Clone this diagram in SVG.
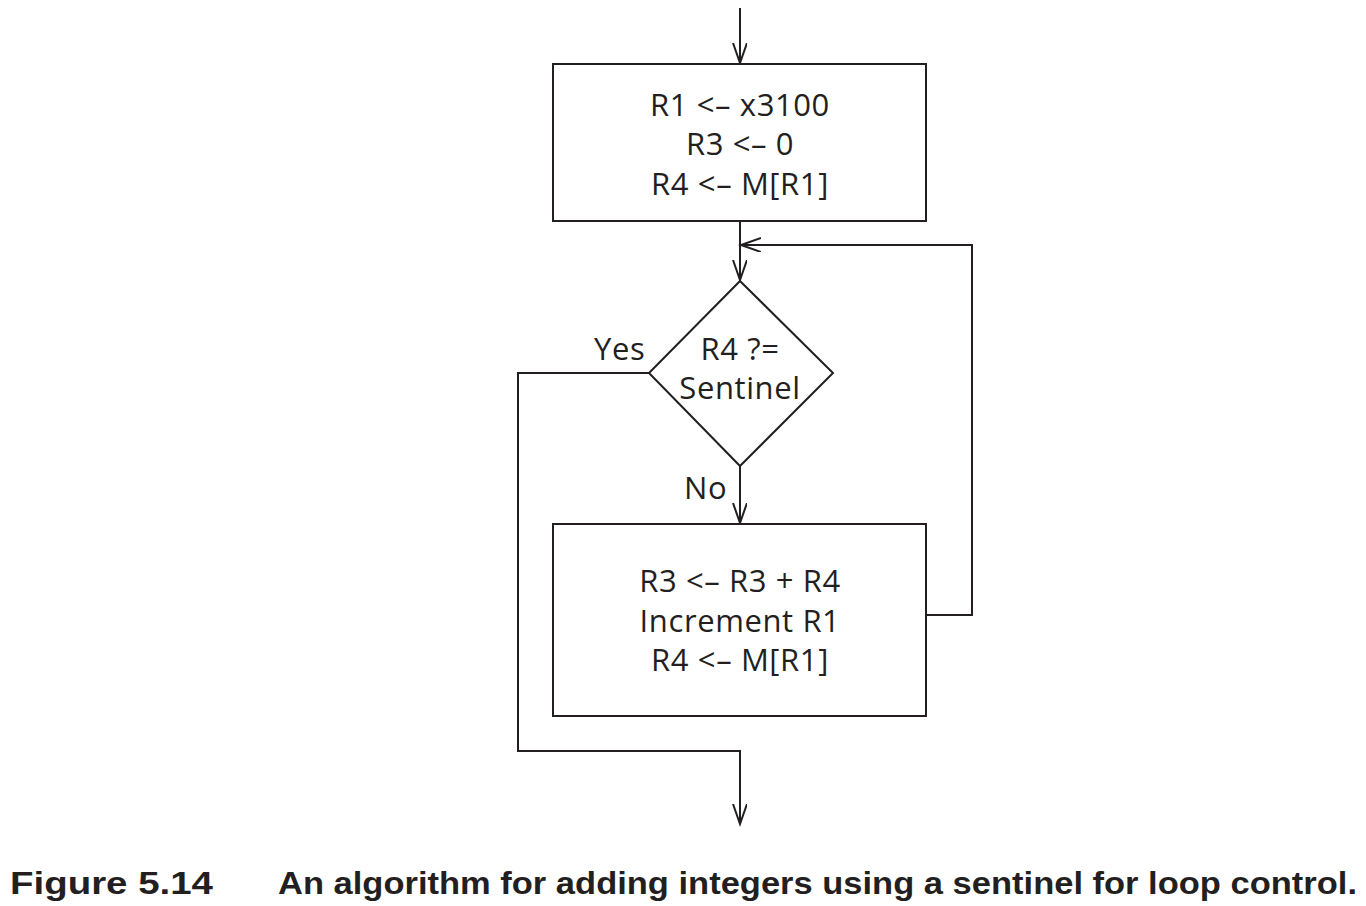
<svg xmlns="http://www.w3.org/2000/svg" width="1366" height="906" viewBox="0 0 1366 906">
<defs>
<marker id="arr" markerWidth="24" markerHeight="16" refX="20" refY="7" orient="auto" markerUnits="userSpaceOnUse">
<path d="M0,0 L20,7 L0,14" fill="none" stroke="#231f20" stroke-width="2"/>
</marker>
<style>
.box{fill:#fff;stroke:#231f20;stroke-width:2}
.ln{fill:none;stroke:#231f20;stroke-width:2}
.t{font-family:"Open Sans","Liberation Sans",sans-serif;font-size:31px;letter-spacing:0.6px;fill:#231f20;text-anchor:middle}
.lbl{font-family:"Open Sans","Liberation Sans",sans-serif;font-size:31px;letter-spacing:0.6px;fill:#231f20}
.cap{font-family:"Liberation Sans",Arial,sans-serif;font-size:31px;font-weight:bold;fill:#231f20}
</style>
</defs>
<rect width="1366" height="906" fill="#fff"/>
<g id="connectors">
<path class="ln" d="M740,8 V63" marker-end="url(#arr)"/>
<path class="ln" d="M740,222 V280" marker-end="url(#arr)"/>
<path class="ln" d="M926,615 H972 V245 H741" marker-end="url(#arr)"/>
<path class="ln" d="M740,466 V523" marker-end="url(#arr)"/>
<path class="ln" d="M649,373 H518 V751 H740 V824" marker-end="url(#arr)"/>
</g>
<g id="init">
<rect class="box" x="553" y="64" width="373" height="157"/>
<text class="t" x="740" y="116">R1 &lt;– x3100</text>
<text class="t" x="740" y="155">R3 &lt;– 0</text>
<text class="t" x="740" y="195">R4 &lt;– M[R1]</text>
</g>
<g id="decision">
<polygon class="box" points="740,281 833,373 740,466 649,373"/>
<text class="t" x="740" y="360">R4 ?=</text>
<text class="t" x="740" y="399">Sentinel</text>
<text class="lbl" x="594" y="360">Yes</text>
<text class="lbl" x="684" y="499">No</text>
</g>
<g id="body">
<rect class="box" x="553" y="524" width="373" height="192"/>
<text class="t" x="740" y="592">R3 &lt;– R3 + R4</text>
<text class="t" x="740" y="632">Increment R1</text>
<text class="t" x="740" y="671">R4 &lt;– M[R1]</text>
</g>
<g id="caption">
<text class="cap" x="10" y="894" textLength="203" lengthAdjust="spacingAndGlyphs">Figure 5.14</text>
<text class="cap" x="278" y="894" textLength="1079" lengthAdjust="spacingAndGlyphs">An algorithm for adding integers using a sentinel for loop control.</text>
</g>
</svg>
